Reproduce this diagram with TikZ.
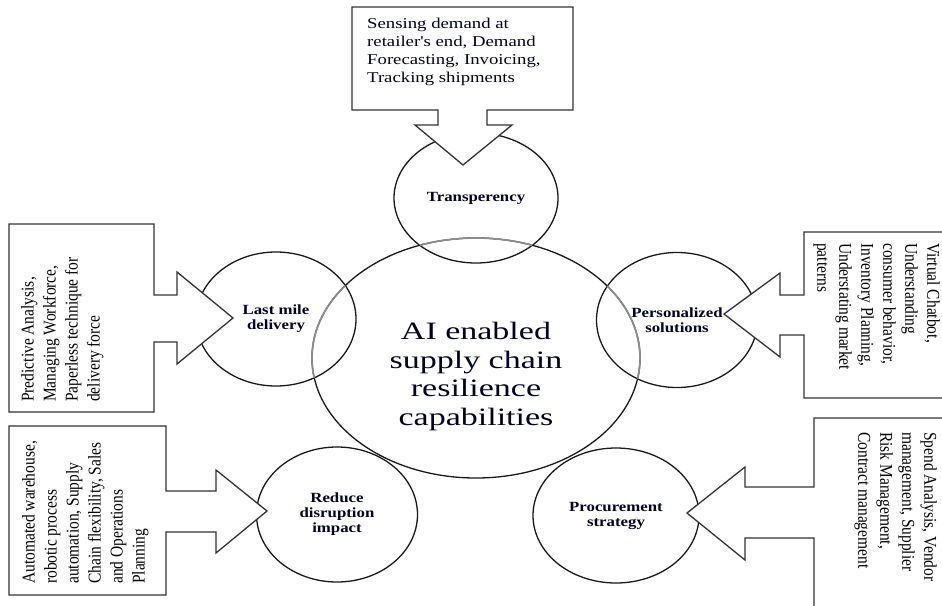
\documentclass[tikz,border=0pt]{standalone}
\usepackage{fontspec}
\setmainfont{Liberation Serif}
\newfontfamily\narrowfont[FakeStretch=0.86]{Liberation Serif}
\newfontfamily\widefont[FakeStretch=1.25]{Liberation Serif}
\newfontfamily\corefont[FakeStretch=1.36]{Liberation Serif}
\newfontfamily\labelfont[FakeStretch=1.2]{Liberation Serif}
\usetikzlibrary{shapes.geometric}
\begin{document}
\begin{tikzpicture}[x=1pt,y=-1pt,
  bubble/.style={ellipse, draw=black!90, line width=1.3pt, inner sep=0pt, align=center,
     font=\labelfont\bfseries\fontsize{14}{15}\selectfont, text=black!85!blue},
  callout/.style={draw=black!80, line width=1.3pt, fill=white, line join=miter},
  sidetext/.style={inner sep=0pt, align=left, font=\narrowfont\fontsize{18}{22}\selectfont},
]
\useasboundingbox (0,0) rectangle (942,605);
\begin{scope}
\clip (0,0) rectangle (942,605);
% central ellipse
\node[ellipse, draw=black!90, line width=1.3pt, minimum width=328pt, minimum height=240pt, inner sep=0pt] (core) at (476,358) {};
\node[inner sep=0pt, anchor=north, align=center, font=\corefont\fontsize{25}{28.5}\selectfont, text=black!85!blue] (coretext) at (476,322)
  {AI enabled\\supply chain\\resilience\\capabilities};
% capability bubbles
\node[bubble, minimum width=164pt, minimum height=130pt] (trans) at (476,198) {Transperency};
\node[bubble, minimum width=160pt, minimum height=134pt] (last) at (276,319) {Last mile\\delivery};
\node[bubble, minimum width=161pt, minimum height=135pt] (pers) at (677,320) {Personalized\\solutions};
\node[bubble, minimum width=161pt, minimum height=135pt] (redu) at (337,514.5) {Reduce\\disruption\\impact};
\node[bubble, minimum width=166pt, minimum height=135pt] (proc) at (616,515.5) {Procurement\\strategy};
% gray parts of the central ellipse inside the bubbles
\begin{scope}
\clip (476,198) ellipse [x radius=82pt, y radius=65pt]
      (276,319) ellipse [x radius=80pt, y radius=67pt]
      (677,320) ellipse [x radius=80.5pt, y radius=67.5pt]
      (337,514.5) ellipse [x radius=80.5pt, y radius=67.5pt]
      (616,515.5) ellipse [x radius=83pt, y radius=67.5pt];
\draw[black!45, line width=1.7pt] (476,358) ellipse [x radius=164pt, y radius=120pt];
\end{scope}
% callouts
\draw[callout] (352,7) -- (573,7) -- (573,110) -- (487,110) -- (487,125) -- (512,125)
  -- (463,165) -- (415,125) -- (438,125) -- (438,110) -- (352,110) -- cycle;
\draw[callout] (9,224) -- (154,224) -- (154,295) -- (177,295) -- (177,272) -- (233,318)
  -- (177,364) -- (177,342) -- (154,342) -- (154,412) -- (9,412) -- cycle;
\draw[callout] (9,426) -- (166,426) -- (166,491) -- (216,491) -- (216,470) -- (267,511)
  -- (216,553) -- (216,532) -- (166,532) -- (166,595) -- (9,595) -- cycle;
\draw[callout] (960,232) -- (804,232) -- (804,295) -- (780,295) -- (780,273) -- (724,314)
  -- (780,357) -- (780,335) -- (804,335) -- (804,398) -- (960,398) -- cycle;
\draw[callout] (960,418) -- (814,418) -- (814,487) -- (745,487) -- (745,467) -- (687,513)
  -- (745,560) -- (745,538) -- (814,538) -- (814,620) -- (960,620) -- cycle;
% callout texts
\node[inner sep=0pt, anchor=north west, align=left, font=\widefont\fontsize{15}{18}\selectfont, text=black!85!blue] (toptext) at (367,18)
  {Sensing demand at\\retailer's end, Demand\\Forecasting, Invoicing,\\Tracking shipments};
\node[sidetext, rotate=90, anchor=north west] (lefttext1) at (21,402)
  {Predictive Analysis,\\Managing Workforce,\\Paperless technique for\\delivery force};
\node[sidetext, rotate=90, anchor=north west] (lefttext2) at (22,584)
  {Automated warehouse,\\robotic process\\automation, Supply\\Chain flexibility, Sales\\and Operations\\Planning};
\node[sidetext, rotate=-90, anchor=north west] (righttext1) at (940,243)
  {Virtual Chatbot,\\Understanding\\consumer behavior,\\Inventory Planning,\\Understating market\\patterns};
\node[sidetext, rotate=-90, anchor=north west] (righttext2) at (937,432)
  {Spend Analysis, Vendor\\management, Supplier\\Risk Management,\\Contract management};
\end{scope}
\end{tikzpicture}
\end{document}
